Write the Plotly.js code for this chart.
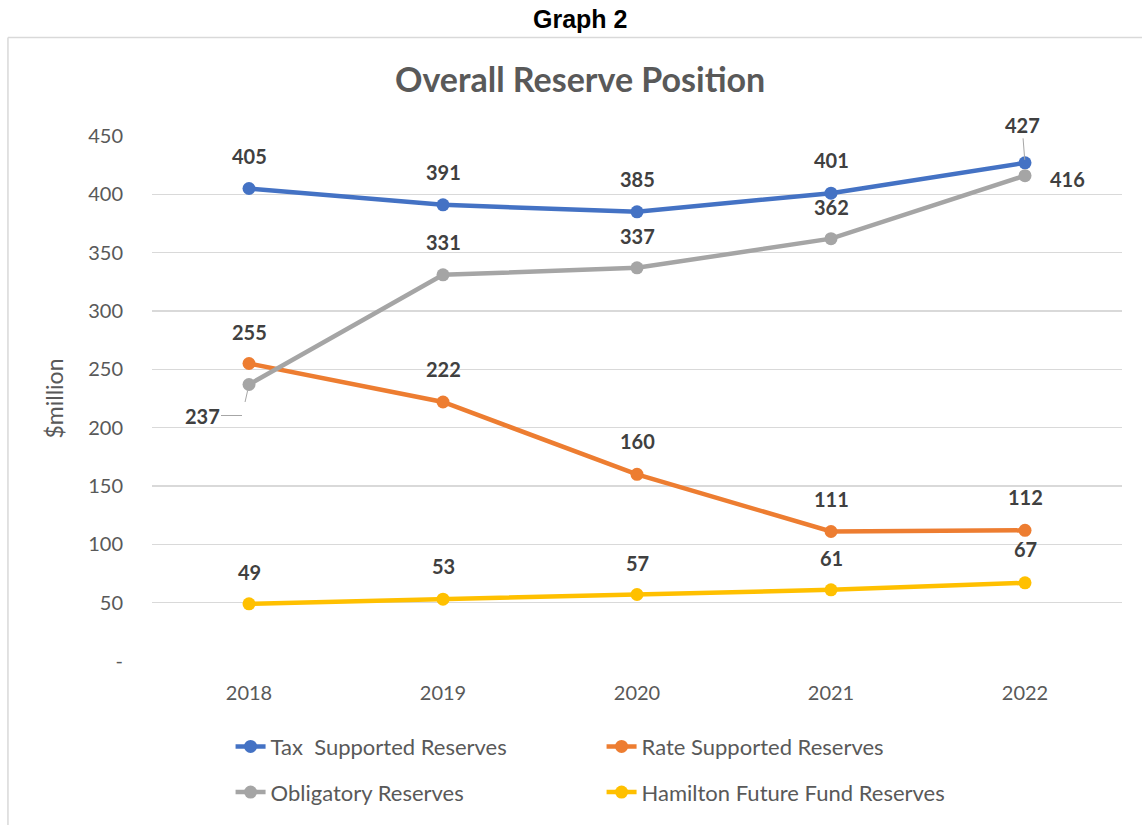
<!DOCTYPE html>
<html>
<head>
<meta charset="utf-8">
<script src="https://cdn.plot.ly/plotly-3.0.1.min.js"></script>
<style>
  html, body { margin: 0; padding: 0; background: #fff; }
  #chart { width: 1142px; height: 825px; }
</style>
</head>
<body>
<div id="chart"></div>
<script>
// Data ($million)
const years = ['2018', '2019', '2020', '2021', '2022'];
const taxSupported = [405, 391, 385, 401, 427];
const rateSupported = [255, 222, 160, 111, 112];
const obligatory = [237, 331, 337, 362, 416];
const futureFund = [49, 53, 57, 61, 67];

const seriesNames = ['Tax  Supported Reserves', 'Rate Supported Reserves', 'Obligatory Reserves', 'Hamilton Future Fund Reserves'];
const yTickVals = [0, 50, 100, 150, 200, 250, 300, 350, 400, 450];
const yTickText = ['-', '50', '100', '150', '200', '250', '300', '350', '400', '450'];

const colors = ['#4472C4', '#ED7D31', '#A5A5A5', '#FFC000'];
const allSeries = [taxSupported, rateSupported, obligatory, futureFund];

// label placement per series/point: [dx, dy, kind]
// kind: 'lead' = straight leader line, 'elbow' = bent leader line
const labelPlace = [
    [[0, -33], [0, -33], [0, -33], [0, -33], [-3, -38, 'lead']],
    [[0, -32], [0, -33], [0, -33], [0, -33], [0, -33]],
    [[-7, 31, 'elbow'], [0, -33], [0, -32], [0, -32], [42, 3]],
    [[0, -32], [0, -33], [0, -32], [0, -32], [0, -34]]
];

const FONT = 'Lato, "Open Sans", sans-serif';
const LEAD = '#A6A6A6';

const traces = allSeries.map((vals, i) => ({
    x: years,
    y: vals,
    name: seriesNames[i],
    type: 'scatter',
    mode: 'lines+markers',
    line: { color: colors[i], width: 4.5 },
    marker: { color: colors[i], size: 13 },
    legend: i < 2 ? 'legend' : 'legend2',
    hoverinfo: 'skip'
}));

const labelFont = { family: FONT, size: 20, color: '#404040' };
const annotations = [];
allSeries.forEach((vals, i) => {
    vals.forEach((v, j) => {
        const p = labelPlace[i][j];
        const base = { x: j, y: v, xref: 'x', yref: 'y', font: labelFont };
        const txt = '<b>' + v + '</b>';
        if (p[2] === 'lead') {
            annotations.push(Object.assign({}, base, {
                text: txt, showarrow: true, arrowhead: 0, arrowwidth: 1,
                arrowcolor: LEAD, ax: p[0], ay: p[1], standoff: 3
            }));
        } else if (p[2] === 'elbow') {
            // first leg: from the point down to the bend
            annotations.push(Object.assign({}, base, {
                text: ' ', showarrow: true, arrowhead: 0, arrowwidth: 1,
                arrowcolor: LEAD, ax: p[0], ay: p[1], standoff: 6
            }));
            // second leg: horizontal towards the label
            annotations.push(Object.assign({}, base, {
                text: txt, showarrow: true, arrowhead: 0, arrowwidth: 1,
                arrowcolor: LEAD, ax: -40, ay: 0, standoff: 0,
                xshift: p[0], yshift: -p[1]
            }));
        } else {
            annotations.push(Object.assign({}, base, {
                text: txt, showarrow: false, xshift: p[0], yshift: -p[1]
            }));
        }
    });
});

annotations.push({
    xref: 'paper', yref: 'paper', x: 0.441, y: 1.223,
    xanchor: 'center', yanchor: 'middle', showarrow: false,
    text: '<b>Graph 2</b>',
    font: { family: 'Liberation Sans, Arial, sans-serif', size: 25, color: '#000' }
});

const layout = {
    width: 1142,
    height: 825,
    paper_bgcolor: '#fff',
    plot_bgcolor: '#fff',
    margin: { l: 152, r: 20, t: 136, b: 161 },
    font: { family: FONT, color: '#595959' },
    title: {
        text: '<b>Overall Reserve Position</b>',
        font: { family: FONT, size: 34, color: '#595959' },
        x: 0.508, xanchor: 'center',
        y: 0.903, yanchor: 'middle'
    },
    xaxis: {
        type: 'category',
        range: [-0.5, 4.5],
        showgrid: false,
        showline: false,
        zeroline: false,
        ticks: '',
        tickfont: { family: FONT, size: 20, color: '#595959' },
        ticklabelstandoff: 18
    },
    yaxis: {
        range: [0, 450],
        tickvals: yTickVals,
        ticktext: yTickText,
        showgrid: true,
        gridcolor: '#D9D9D9',
        gridwidth: 1.3,
        zeroline: false,
        showline: false,
        tickfont: { family: FONT, size: 20, color: '#595959' },
        ticklabelstandoff: 28,
        title: { text: '$million', font: { family: FONT, size: 23, color: '#595959' }, standoff: 18 }
    },
    showlegend: true,
    legend: {
        orientation: 'h',
        x: 0.081, xanchor: 'left',
        y: -0.163, yanchor: 'middle',
        entrywidth: 326,
        font: { family: FONT, size: 22, color: '#595959' },
        bgcolor: 'rgba(0,0,0,0)'
    },
    legend2: {
        orientation: 'h',
        x: 0.081, xanchor: 'left',
        y: -0.25, yanchor: 'middle',
        entrywidth: 326,
        font: { family: FONT, size: 22, color: '#595959' },
        bgcolor: 'rgba(0,0,0,0)'
    },
    annotations: annotations,
    shapes: [
        { type: 'line', xref: 'paper', yref: 'paper', x0: -0.1485, x1: -0.1485, y0: 1.1875, y1: -0.4,
          line: { color: '#D9D9D9', width: 1.5 } },
        { type: 'line', xref: 'paper', yref: 'paper', x0: -0.1485, x1: 1.1, y0: 1.1875, y1: 1.1875,
          line: { color: '#D9D9D9', width: 1.5 } }
    ]
};

Plotly.newPlot('chart', traces, layout, { displayModeBar: false, staticPlot: true });
</script>
</body>
</html>
